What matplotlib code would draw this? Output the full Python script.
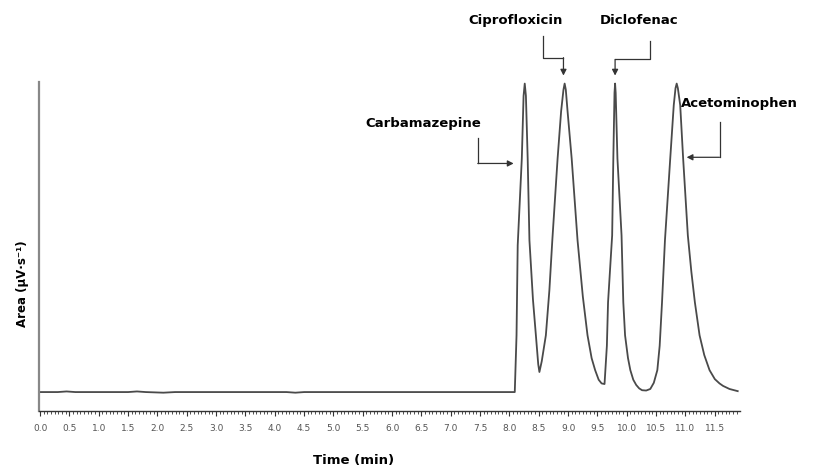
import matplotlib
matplotlib.use("Agg")
import matplotlib.pyplot as plt
from matplotlib.ticker import MultipleLocator

# chromatogram trace (time in min, signal in relative units)
time_min = [0.00, 0.30, 0.45, 0.60, 1.50, 1.65, 1.80, 2.10, 2.30, 4.20, 4.35, 4.50,
            8.09, 8.12, 8.14, 8.21, 8.24, 8.26, 8.28, 8.31, 8.34, 8.40, 8.45, 8.49, 8.51,
            8.55, 8.62, 8.68, 8.73, 8.82, 8.88, 8.92, 8.94, 8.96, 8.99, 9.06, 9.16, 9.25,
            9.33, 9.40, 9.46, 9.52, 9.57, 9.62,
            9.66, 9.68, 9.75, 9.77, 9.79, 9.80, 9.81, 9.84, 9.91, 9.94, 9.97, 10.02, 10.06,
            10.11, 10.16, 10.21, 10.26, 10.33, 10.40, 10.46, 10.52, 10.56,
            10.60, 10.65, 10.74, 10.80, 10.83, 10.85, 10.87,
            10.91, 10.96, 11.04, 11.10, 11.16, 11.24, 11.32, 11.41, 11.50, 11.58, 11.64,
            11.75, 11.89]
signal = [0.0, 0.0, 0.2, 0.0, 0.0, 0.2, 0.0, -0.2, 0.0, 0.0, -0.2, 0.0,
          0.0, 18.4, 47.6, 75.7, 96.0, 100.0, 96.0, 75.7, 49.2, 30.0, 18.4, 9.0, 6.5,
          10.0, 18.4, 33.0, 49.2, 75.7, 91.0, 98.0, 100.0, 98.0, 91.0, 75.7, 49.2, 31.0,
          18.4, 11.0, 7.1, 4.0, 2.8, 2.6,
          15.0, 29.1, 50.8, 75.7, 97.0, 100.0, 97.0, 75.7, 50.8, 29.1, 18.4, 11.0, 7.1,
          4.0, 2.3, 1.2, 0.6, 0.5, 1.0, 3.0, 7.1, 15.0,
          29.1, 49.2, 75.7, 93.0, 98.5, 100.0, 98.5,
          93.0, 75.7, 50.8, 39.0, 29.1, 18.4, 12.0, 7.1, 4.2, 2.8, 2.0,
          1.0, 0.3]

tick_values = [0.0, 0.5, 1.0, 1.5, 2.0, 2.5, 3.0, 3.5, 4.0, 4.5, 5.0, 5.5, 6.0,
               6.5, 7.0, 7.5, 8.0, 8.5, 9.0, 9.5, 10.0, 10.5, 11.0, 11.5]
tick_labels = [f"{v:.1f}" for v in tick_values]

compounds = ["Carbamazepine", "Ciprofloxicin", "Diclofenac", "Acetominophen"]

fig = plt.figure(figsize=(8.19, 4.73), dpi=100)
ax = fig.add_axes([0.0476, 0.131, 0.856, 0.6956])

ax.plot(time_min, signal, color="#4a4a4a", lw=1.3, solid_joinstyle="round")

ax.set_xlim(-0.02, 11.93)
ax.set_ylim(-6.15, 100.5)

ax.set_xticks(tick_values)
ax.set_xticklabels(tick_labels)
ax.xaxis.set_minor_locator(MultipleLocator(0.0625))
ax.tick_params(axis="x", which="major", length=3.5, width=0.8, color="#333333",
               labelsize=6.5, labelcolor="#555555", pad=6)
ax.tick_params(axis="x", which="minor", length=2.5, width=0.6, color="#333333")
ax.set_yticks([])

for s in ["top", "right"]:
    ax.spines[s].set_visible(False)
ax.spines["left"].set_color("#888888")
ax.spines["left"].set_linewidth(1.6)
ax.spines["bottom"].set_color("#333333")
ax.spines["bottom"].set_linewidth(1.0)

fig.text(0.432, 0.013, "Time (min)", ha="center", va="bottom", fontsize=9.5, fontweight="bold")
fig.text(0.027, 0.40, "Area (\u00b5V\u00b7s\u207b\u00b9)", ha="center", va="center",
         rotation=90, fontsize=8.5, fontweight="bold")

# labels and elbow arrows
label_pos = [(6.53, 87.1), (8.11, 120.4), (10.21, 120.4), (11.91, 93.5)]
elbows = [
    [(7.46, 82.2), (7.46, 74.1), (8.07, 74.1)],
    [(8.57, 115.5), (8.57, 108.4), (8.92, 108.4), (8.92, 102.6)],
    [(10.40, 113.9), (10.40, 107.8), (9.80, 107.8), (9.80, 102.6)],
    [(11.58, 87.4), (11.58, 76.1), (11.02, 76.1)],
]
for name, (lx, ly), pts in zip(compounds, label_pos, elbows):
    ax.text(lx, ly, name, ha="center", va="center", fontsize=9.5, fontweight="bold",
            clip_on=False)
    xs = [p[0] for p in pts[:-1]]
    ys = [p[1] for p in pts[:-1]]
    ax.plot(xs, ys, color="#333333", lw=0.9, clip_on=False)
    ax.annotate("", xy=pts[-1], xytext=pts[-2], annotation_clip=False,
                arrowprops=dict(arrowstyle="-|>,head_length=0.35,head_width=0.18",
                                color="#333333", lw=0.9, shrinkA=0, shrinkB=0))

fig.savefig("out.png", dpi=100)
